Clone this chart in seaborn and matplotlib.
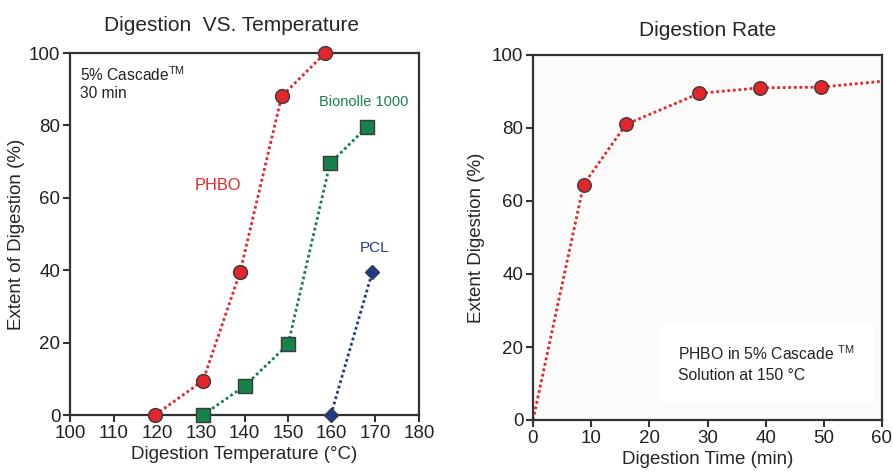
import matplotlib
matplotlib.use("Agg")
import matplotlib.pyplot as plt
import seaborn as sns
import pandas as pd

sns.set_theme(style="ticks")
plt.rcParams['font.family'] = ['Liberation Sans', 'DejaVu Sans']
plt.rcParams['mathtext.fontset'] = 'custom'
plt.rcParams['mathtext.rm'] = 'Liberation Sans'

# ---- data: left panel ----
phbo_temp = [119.5, 130.5, 139, 148.5, 158.5]
phbo_ext = [0, 9.5, 39.5, 88, 100]
bion_temp = [130.5, 140, 150, 159.6, 168]
bion_ext = [0, 8, 19.5, 69.5, 79.5]
pcl_temp = [159.8, 169.3]
pcl_ext = [0, 39.5]
temp_ticks = [100, 110, 120, 130, 140, 150, 160, 170, 180]
ext_ticks = [0, 20, 40, 60, 80, 100]

# ---- data: right panel ----
rate_line_time = [0, 8.7, 16, 28.6, 39, 49.5, 60]
rate_line_ext = [0, 64.5, 81, 89.5, 91, 91.2, 92.8]
rate_time = [8.7, 16, 28.6, 39, 49.5]
rate_ext = [64.5, 81, 89.5, 91, 91.2]
time_ticks = [0, 10, 20, 30, 40, 50, 60]

RED = '#e3262b'
GREEN = '#15824a'
BLUE = '#1f3a8f'
EDGE = '#3a3a3a'

fig = plt.figure(figsize=(8.93, 4.72), dpi=100)
W, H = 893, 472
ax1 = fig.add_axes([70 / W, 1 - 415 / H, (419 - 70) / W, (415 - 53) / H])
ax2 = fig.add_axes([533 / W, 1 - 420 / H, (882 - 533) / W, (420 - 55) / H])

def series(ax, x, y, color, marker, ms):
    df = pd.DataFrame({'x': x, 'y': y})
    sns.lineplot(data=df, x='x', y='y', ax=ax, color=color, linestyle=(0, (1, 1)),
                 linewidth=2, marker=marker, markersize=ms, markerfacecolor=color,
                 markeredgecolor=EDGE, markeredgewidth=1, clip_on=False, zorder=3)

series(ax1, phbo_temp, phbo_ext, RED, 'o', 10)
series(ax1, bion_temp, bion_ext, GREEN, 's', 9.5)
series(ax1, pcl_temp, pcl_ext, BLUE, 'D', 7)

ax1.set_xlim(100, 180)
ax1.set_ylim(0, 100)
ax1.set_xticks(temp_ticks)
ax1.set_yticks(ext_ticks)

ax1.text(102.3, 96.5, '5% Cascade$^{\\mathrm{TM}}$\n30 min', fontsize=11.2, va='top', ha='left',
         color='#222222', linespacing=1.1)
ax1.text(167.4, 86.5, 'Bionolle 1000', color=GREEN, fontsize=10.5, ha='center', va='center')
ax1.text(134, 63.5, 'PHBO', color=RED, fontsize=11.8, ha='center', va='center')
ax1.text(169.7, 46, 'PCL', color=BLUE, fontsize=11, ha='center', va='center')

ax1.set_title('Digestion  VS. Temperature', fontsize=15, pad=16, x=0.463)
ax1.set_xlabel('Digestion Temperature (°C)', fontsize=13.5, labelpad=3)
ax1.set_ylabel('Extent of Digestion (%)', fontsize=13.5, labelpad=3)

# right panel
ax2.set_facecolor('#fbfbf9')
df_line = pd.DataFrame({'t': rate_line_time, 'e': rate_line_ext})
sns.lineplot(data=df_line, x='t', y='e', ax=ax2, color=RED, linestyle=(0, (1, 1)),
             linewidth=2, zorder=2)
df_pts = pd.DataFrame({'t': rate_time, 'e': rate_ext})
sns.scatterplot(data=df_pts, x='t', y='e', ax=ax2, color=RED, s=95,
                edgecolor=EDGE, linewidth=1, zorder=3)
ax2.set_xlim(0, 60)
ax2.set_ylim(0, 100)
ax2.set_xticks(time_ticks)
ax2.set_yticks(ext_ticks)
ax2.text(25, 15.5, 'PHBO in 5% Cascade $^{\\mathrm{TM}}$\nSolution at 150 °C', fontsize=11.3,
         ha='left', va='center', color='#222222', linespacing=1.4,
         bbox=dict(boxstyle='square,pad=1.2', facecolor='white', edgecolor='none'))

ax2.set_title('Digestion Rate', fontsize=15, pad=14)
ax2.set_xlabel('Digestion Time (min)', fontsize=13.5, labelpad=3)
ax2.set_ylabel('Extent Digestion (%)', fontsize=13.5, labelpad=5)

for ax in (ax1, ax2):
    for s in ax.spines.values():
        s.set_linewidth(1.6)
        s.set_color('#333333')
    ax.tick_params(axis='both', direction='out', length=5, width=1.5, color='#333333',
                   labelsize=13.5, labelcolor='#222222', pad=2)

fig.savefig('out.png', dpi=100, facecolor='white')
